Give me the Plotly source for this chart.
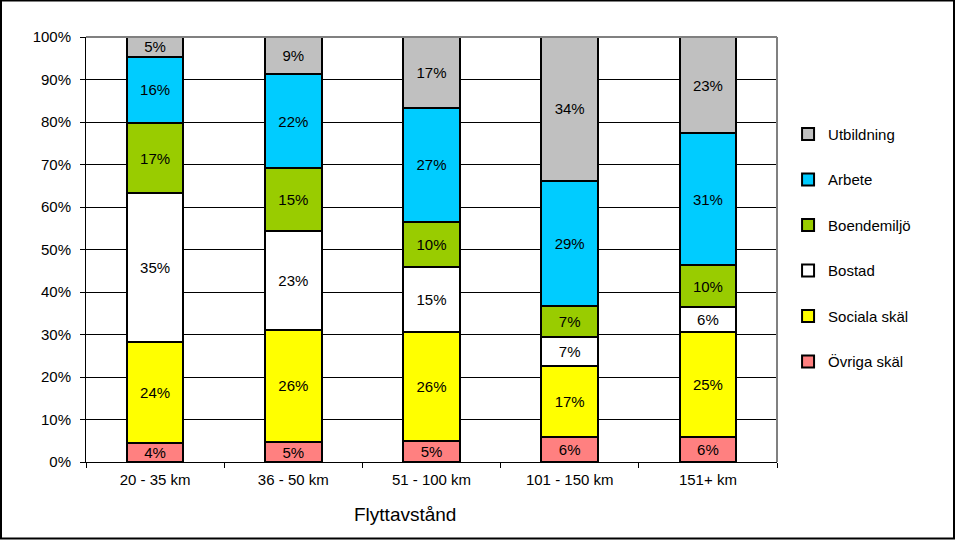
import plotly.graph_objects as go

# data
categories = ["20 - 35 km", "36 - 50 km", "51 - 100 km", "101 - 150 km", "151+ km"]
ovriga = [4.4, 4.7, 5.0, 5.8, 6.0]
sociala = [23.8, 26.4, 25.6, 16.9, 24.6]
bostad = [35.0, 23.3, 15.4, 6.8, 5.9]
boende = [16.6, 14.7, 10.4, 7.3, 9.8]
arbete = [15.6, 22.1, 27.0, 29.4, 31.1]
utbildning = [4.6, 8.8, 16.6, 33.8, 22.6]

series = [
    ("Övriga skäl", ovriga, "#FF8080"),
    ("Sociala skäl", sociala, "#FFFF00"),
    ("Bostad", bostad, "#FFFFFF"),
    ("Boendemiljö", boende, "#99CC00"),
    ("Arbete", arbete, "#00CCFF"),
    ("Utbildning", utbildning, "#C0C0C0"),
]

fnt = "Liberation Sans, Arial, sans-serif"

fig = go.Figure()
for i, (name, vals, col) in enumerate(series):
    fig.add_trace(go.Bar(
        x=categories, y=vals, name=name, legendgroup=name,
        legendrank=len(series) - i,
        marker=dict(color=col, line=dict(color="black", width=2)),
        texttemplate="%{y:.0f}%", textposition="inside",
        insidetextanchor="middle", textangle=0,
        textfont=dict(family=fnt, size=15, color="black"),
    ))

fig.update_layout(
    barmode="stack", bargap=0.59,
    width=955, height=540,
    margin=dict(l=86, r=178, t=37, b=78),
    plot_bgcolor="white", paper_bgcolor="white",
    font=dict(family=fnt, size=15, color="black"),
    uniformtext=dict(minsize=15, mode="show"),
    legend=dict(traceorder="grouped", tracegroupgap=23,
                x=1.016, xanchor="left", y=0.81, yanchor="top",
                font=dict(family=fnt, size=15, color="black"),
                itemwidth=30),
    showlegend=True,
)
fig.update_yaxes(range=[0, 100], dtick=10, ticksuffix="%",
                 showgrid=True, gridcolor="black", gridwidth=1,
                 showline=True, linecolor="black", linewidth=1,
                 ticks="outside", ticklen=5, tickcolor="black",
                 ticklabelstandoff=6,
                 zeroline=False, fixedrange=True)
fig.update_xaxes(showline=True, linecolor="black", linewidth=1,
                 ticks="outside", ticklen=5, tickcolor="black",
                 tickson="boundaries", ticklabelstandoff=4, fixedrange=True)

# axis title sits left of the plot centre in the original
fig.add_annotation(text="Flyttavstånd", xref="paper", yref="paper",
                   x=(405 - 86) / 691, y=(462.5 - 515) / 425,
                   xanchor="center", yanchor="middle", showarrow=False,
                   font=dict(family=fnt, size=19, color="black"))

# grey top/right frame of plot area
fig.add_shape(type="line", xref="paper", yref="paper", x0=0, x1=1, y0=1, y1=1,
              line=dict(color="#808080", width=2))
fig.add_shape(type="line", xref="paper", yref="paper", x0=1, x1=1, y0=0, y1=1,
              line=dict(color="#808080", width=2))
# outer border of the chart
fig.add_shape(type="rect", xref="paper", yref="paper",
              x0=(1 - 86) / 691, x1=(954 - 86) / 691,
              y0=(462.5 - 539) / 425, y1=(462.5 - 1) / 425,
              line=dict(color="black", width=2))

fig.write_html("out.html", config={"displayModeBar": False},
               post_script="document.body.style.margin='0px';")
